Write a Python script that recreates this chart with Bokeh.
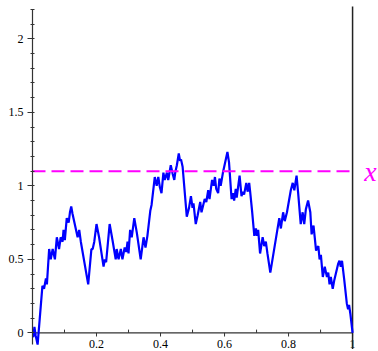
from bokeh.plotting import figure
from bokeh.models import Range1d, FixedTicker
from bokeh.core.properties import value
from bokeh.embed import file_html
from bokeh.resources import INLINE

# ---- data ----
path_x = [0.000, 0.0025, 0.006, 0.010, 0.016, 0.031, 0.036, 0.042, 0.045, 0.052,
          0.057, 0.063, 0.070, 0.076, 0.083, 0.088, 0.094, 0.097, 0.101, 0.107,
          0.113, 0.117, 0.121, 0.125, 0.141, 0.146, 0.151, 0.174, 0.184, 0.188,
          0.193, 0.200, 0.208, 0.222, 0.226, 0.230, 0.241, 0.250, 0.260, 0.263,
          0.269, 0.276, 0.281, 0.288, 0.293, 0.297, 0.300, 0.305, 0.310, 0.318,
          0.326, 0.338, 0.347, 0.353, 0.359, 0.368, 0.372, 0.382, 0.388, 0.393,
          0.398, 0.403, 0.409, 0.413, 0.420, 0.424, 0.432, 0.438, 0.443, 0.446,
          0.451, 0.457, 0.461, 0.464, 0.469, 0.482, 0.489, 0.495, 0.500, 0.503,
          0.510, 0.516, 0.524, 0.528, 0.538, 0.543, 0.549, 0.553, 0.561, 0.566,
          0.570, 0.574, 0.580, 0.584, 0.588, 0.595, 0.601, 0.609, 0.614, 0.622,
          0.626, 0.630, 0.635, 0.638, 0.647, 0.653, 0.657, 0.661, 0.668, 0.672,
          0.677, 0.680, 0.686, 0.693, 0.698, 0.701, 0.705, 0.711, 0.719, 0.724,
          0.729, 0.734, 0.743, 0.771, 0.776, 0.783, 0.788, 0.795, 0.807, 0.813,
          0.818, 0.825, 0.830, 0.838, 0.844, 0.849, 0.854, 0.861, 0.868, 0.872,
          0.878, 0.886, 0.893, 0.897, 0.901, 0.907, 0.913, 0.920, 0.924, 0.928,
          0.932, 0.938, 0.943, 0.955, 0.959, 0.963, 0.967, 0.974, 0.982, 0.986,
          0.989, 0.993, 1.000]
path_y = [0.00, -0.03, 0.04, -0.02, -0.08, 0.32, 0.30, 0.37, 0.33, 0.57,
          0.50, 0.57, 0.50, 0.65, 0.57, 0.65, 0.62, 0.70, 0.63, 0.78,
          0.75, 0.82, 0.86, 0.81, 0.65, 0.70, 0.62, 0.33, 0.57, 0.57,
          0.62, 0.74, 0.65, 0.45, 0.50, 0.48, 0.74, 0.63, 0.50, 0.57,
          0.50, 0.57, 0.50, 0.58, 0.55, 0.62, 0.54, 0.70, 0.65, 0.78,
          0.68, 0.50, 0.65, 0.58, 0.66, 0.83, 0.87, 1.06, 1.00, 1.06,
          0.99, 0.95, 1.09, 1.04, 1.09, 1.04, 1.14, 1.08, 1.04, 1.09,
          1.14, 1.22, 1.17, 1.18, 1.13, 0.79, 0.85, 0.93, 0.85, 0.88,
          0.74, 0.80, 0.89, 0.82, 0.91, 0.89, 0.97, 0.91, 1.04, 1.00,
          1.06, 0.98, 0.95, 1.05, 1.00, 1.09, 1.15, 1.23, 1.16, 0.91,
          0.95, 0.90, 0.98, 0.92, 1.07, 0.93, 0.96, 0.94, 1.02, 0.96,
          1.02, 0.96, 0.83, 0.66, 0.71, 0.66, 0.70, 0.54, 0.65, 0.59,
          0.62, 0.54, 0.41, 0.78, 0.71, 0.82, 0.76, 0.82, 0.97, 1.02,
          0.97, 1.07, 0.95, 0.74, 0.82, 0.74, 0.84, 0.90, 0.82, 0.67,
          0.73, 0.56, 0.59, 0.50, 0.53, 0.38, 0.45, 0.38, 0.41, 0.33,
          0.38, 0.30, 0.36, 0.47, 0.49, 0.45, 0.49, 0.36, 0.20, 0.16,
          0.19, 0.13, 0.00]

level_value = 1.1
level_label = "x"
x_start, x_end = 0.0, 1.0

y_major = [0, 0.5, 1, 1.5, 2]
y_labels = ["0", "0.5", "1", "1.5", "2"]
y_minor = [0.0, 0.1, 0.2, 0.3, 0.4, 0.5, 0.6, 0.7, 0.8, 0.9, 1.0,
           1.1, 1.2, 1.3, 1.4, 1.5, 1.6, 1.7, 1.8, 1.9, 2.0, 2.1, 2.2]
x_major = [0.2, 0.4, 0.6, 0.8, 1.0]
x_labels = ["0.2", "0.4", "0.6", "0.8", "1"]
x_minor = [0.1, 0.3, 0.5, 0.7, 0.9]

# ---- styling constants ----
SERIF = "Liberation Serif"
AXIS_COLOR = "#333333"
LABEL_Y = -0.078
MAJOR_TICK = -0.025
MINOR_TICK = 0.022

p = figure(width=378, height=351, output_backend="svg", toolbar_location=None,
           x_axis_type=None,
           x_range=Range1d(0, 1.081), y_range=Range1d(-0.127, 2.22),
           min_border_left=32, min_border_right=0, min_border_top=6,
           min_border_bottom=0)
p.outline_line_color = None
p.grid.visible = False
p.background_fill_color = "white"
p.border_fill_color = "white"

ya = p.yaxis[0]
ya.ticker = FixedTicker(ticks=y_major, minor_ticks=y_minor)
ya.major_label_overrides = {k: v for k, v in zip(y_major, y_labels)}
ya.bounds = (-0.08, 2.2)
ya.axis_line_color = AXIS_COLOR
ya.axis_line_width = 1.2
ya.major_tick_line_color = AXIS_COLOR
ya.minor_tick_line_color = AXIS_COLOR
ya.major_tick_out = 5
ya.major_tick_in = 1
ya.minor_tick_out = 2
ya.minor_tick_in = 2
ya.major_label_standoff = 4
ya.major_label_text_font = SERIF
ya.major_label_text_font_size = "12px"
ya.major_label_text_color = "black"

# x axis drawn at y = 0
p.segment(x0=[x_start], y0=[0], x1=[x_end], y1=[0], line_color=AXIS_COLOR, line_width=1.2)
p.segment(x0=x_major, y0=[0] * len(x_major), x1=x_major, y1=[MAJOR_TICK] * len(x_major),
          line_color=AXIS_COLOR, line_width=1)
p.segment(x0=x_minor, y0=[0] * len(x_minor), x1=x_minor, y1=[MINOR_TICK] * len(x_minor),
          line_color=AXIS_COLOR, line_width=1)
p.text(x=x_major, y=[LABEL_Y] * len(x_major), text=x_labels,
       text_font=value(SERIF), text_font_size="12px", text_color="black",
       text_align="center", text_baseline="middle")

# right boundary line at x = 1
p.segment(x0=[x_end], y0=[-0.11], x1=[x_end], y1=[2.25], line_color="#222222", line_width=1.5)

# the path
p.line(path_x, path_y, line_color="#0000ff", line_width=2.2)

# level line
p.line([x_start, x_end], [level_value, level_value], line_color="#ff00ff",
       line_width=2, line_dash="13 6")
p.text(x=[1.056], y=[level_value], text=[level_label], text_font=value(SERIF),
       text_font_style="italic", text_font_size="28px", text_color="#ff00ff",
       text_align="center", text_baseline="middle")

open("out.html", "w").write(file_html(p, INLINE))
